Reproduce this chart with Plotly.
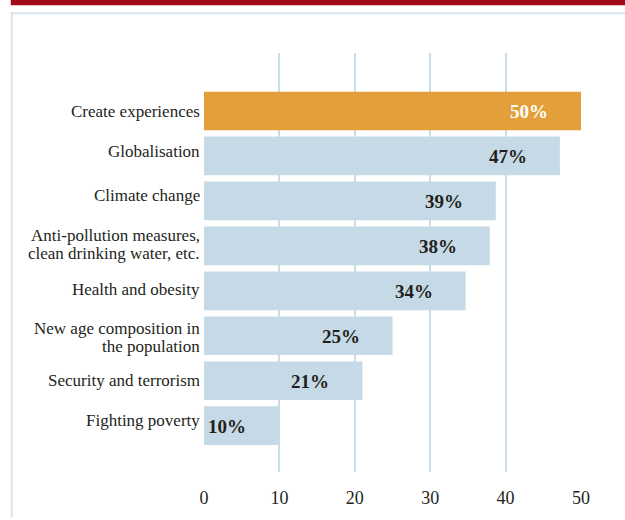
import plotly.graph_objects as go

categories = [
    "Create experiences",
    "Globalisation",
    "Climate change",
    "Anti-pollution measures,\nclean drinking water, etc.",
    "Health and obesity",
    "New age composition in\nthe population",
    "Security and terrorism",
    "Fighting poverty",
]
values = [50, 47.2, 38.7, 37.9, 34.7, 25.0, 21.0, 10.0]
value_labels = ["50%", "47%", "39%", "38%", "34%", "25%", "21%", "10%"]
x_ticks = [0, 10, 20, 30, 40, 50]

# style: small vertical nudges (px) of the category labels, as in the original
label_nudge = [-1, 4, 5, 1, 1.5, -1.5, 0, 5]

ORANGE = "#E3A03A"
BLUE = "#C5DAE6"
GRID = "#CADCE8"
TEXT = "#231F20"
FONT = "Liberation Serif"

bar_colors = [ORANGE] + [BLUE] * (len(categories) - 1)
label_colors = ["#FFFFFF"] + [TEXT] * (len(categories) - 1)

W, H = 625, 520
L, R, T, B = 203.5, 44, 53, 45
pw, ph = W - L - R, H - T - B

def px_x(px):
    return (px - L) / pw

def px_y(py):
    return (H - B - py) / ph

fig = go.Figure(
    go.Bar(
        x=values,
        y=categories,
        orientation="h",
        marker=dict(color=bar_colors, line=dict(width=0)),
        width=0.86,
        hoverinfo="skip",
    )
)

for cat, v, lab, col in zip(categories, values, value_labels, label_colors):
    fig.add_annotation(
        x=v, y=cat, text=f"<b>{lab}</b>", showarrow=False,
        xanchor="right", xshift=-31, yshift=-1,
        font=dict(family=FONT, size=19, color=col),
    )

# category labels (tight leading for two-line labels)
LINE = 18
for cat, nudge in zip(categories, label_nudge):
    lines = cat.split("\n")
    n = len(lines)
    for i, line in enumerate(lines):
        off = ((n - 1) / 2 - i) * LINE
        fig.add_annotation(
            x=0, xref="paper", y=cat, yref="y", text=line, showarrow=False,
            xanchor="right", yanchor="middle", xshift=-3, yshift=off + nudge,
            borderpad=0,
            font=dict(family=FONT, size=17, color=TEXT),
        )

shapes = [
    dict(type="rect", xref="paper", yref="paper",
         x0=px_x(10), x1=px_x(626), y0=px_y(5), y1=px_y(-1),
         fillcolor="#A20A1A", line=dict(width=0), layer="above"),
    dict(type="line", xref="paper", yref="paper",
         x0=px_x(10), x1=px_x(626), y0=px_y(13), y1=px_y(13),
         line=dict(color="#D6E4EE", width=2)),
    dict(type="line", xref="paper", yref="paper",
         x0=px_x(11), x1=px_x(11), y0=px_y(12), y1=px_y(521),
         line=dict(color="#D6E4EE", width=2)),
]

fig.update_layout(
    width=W, height=H,
    margin=dict(l=L, r=R, t=T, b=B, pad=0),
    paper_bgcolor="white", plot_bgcolor="white",
    showlegend=False,
    shapes=shapes,
    font=dict(family=FONT, color=TEXT),
    xaxis=dict(
        range=[0, 50], tickvals=x_ticks, ticktext=[str(t) for t in x_ticks],
        showgrid=True, gridcolor=GRID, gridwidth=1.5,
        zeroline=False, showline=False, ticks="",
        ticklabelstandoff=13,
        tickfont=dict(family=FONT, size=18, color=TEXT),
        fixedrange=True,
    ),
    yaxis=dict(
        type="category", categoryorder="array", categoryarray=categories,
        range=[8.03, -1.29],
        showgrid=False, zeroline=False, showline=False, ticks="",
        showticklabels=False,
        fixedrange=True,
    ),
)

fig.write_html("out.html")
